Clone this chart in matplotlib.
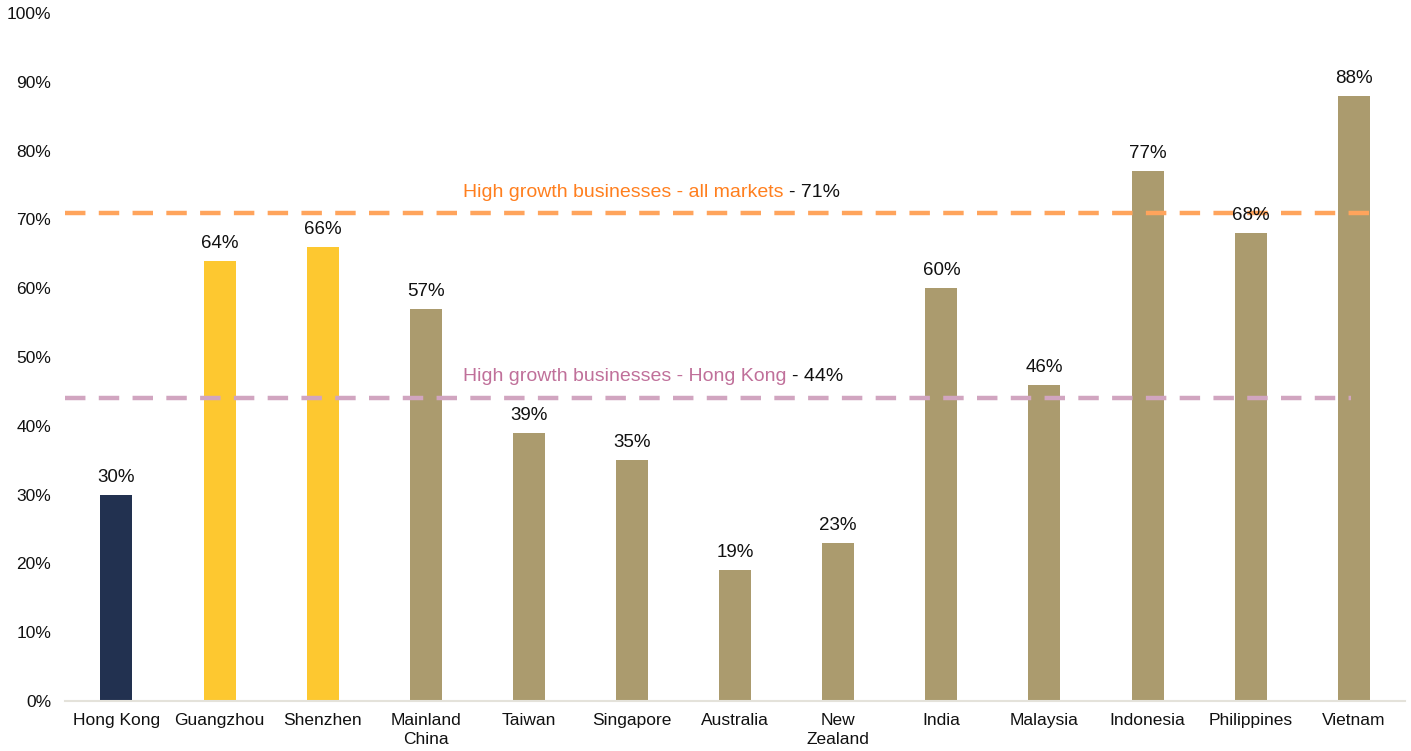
import matplotlib
matplotlib.use("Agg")
from matplotlib import pyplot as plt
from matplotlib.ticker import PercentFormatter

plt.rcParams["font.family"] = ["Liberation Sans", "DejaVu Sans"]

# share of businesses, by market
markets = ["Hong Kong", "Guangzhou", "Shenzhen", "Mainland\nChina", "Taiwan", "Singapore",
           "Australia", "New\nZealand", "India", "Malaysia", "Indonesia", "Philippines", "Vietnam"]
values = [30, 64, 66, 57, 39, 35, 19, 23, 60, 46, 77, 68, 88]
bar_colors = ["#223150", "#FDC830", "#FDC830"] + ["#AB9B6E"] * 10

all_markets_avg = 71
hong_kong_avg = 44

fig = plt.figure(figsize=(14.11, 7.51), dpi=100)
ax = fig.add_axes([0.046, 0.0666, 0.95, 0.916])

x = range(len(markets))
ax.bar(x, values, width=0.31, color=bar_colors, zorder=2)
for i, v in zip(x, values):
    ax.text(i, v + 1.3, f"{v}%", ha="center", va="bottom", fontsize=13.5, color="#111111", zorder=4)

# benchmark lines
ax.plot([-0.5, 12.2], [all_markets_avg] * 2, color="#FFA45C", lw=3.2,
        dashes=(4.6, 3.0), zorder=3)
ax.plot([-0.5, 11.97], [hong_kong_avg] * 2, color="#D1A5C0", lw=3.2,
        dashes=(4.6, 3.0), zorder=3)

t = ax.text(3.36, all_markets_avg + 1.7, "High growth businesses - all markets ",
            ha="left", va="bottom", fontsize=14, color="#FF7F1E")
ax.annotate(f"- {all_markets_avg}%", xycoords=t, xy=(1, 0), va="bottom",
            fontsize=14, color="#111111")
p = ax.text(3.36, hong_kong_avg + 2.0, "High growth businesses - Hong Kong ",
            ha="left", va="bottom", fontsize=14, color="#C0709A")
ax.annotate(f"- {hong_kong_avg}%", xycoords=p, xy=(1, 0), va="bottom",
            fontsize=14, color="#111111")

ax.set_xlim(-0.5, 12.5)
ax.set_ylim(0, 100)
ax.set_yticks(range(0, 101, 10))
ax.yaxis.set_major_formatter(PercentFormatter(decimals=0))
ax.set_xticks(list(x))
ax.set_xticklabels(markets, fontsize=12.5, linespacing=1.3)
ax.tick_params(axis="both", length=0, colors="#111111")
ax.tick_params(axis="x", pad=9, labelsize=12.5)
ax.tick_params(axis="y", pad=10, labelsize=12.5)

for s in ["top", "right", "left"]:
    ax.spines[s].set_visible(False)
ax.spines["bottom"].set_color("#E4E2DA")
ax.spines["bottom"].set_linewidth(1.5)

fig.savefig("out.png", dpi=100)
